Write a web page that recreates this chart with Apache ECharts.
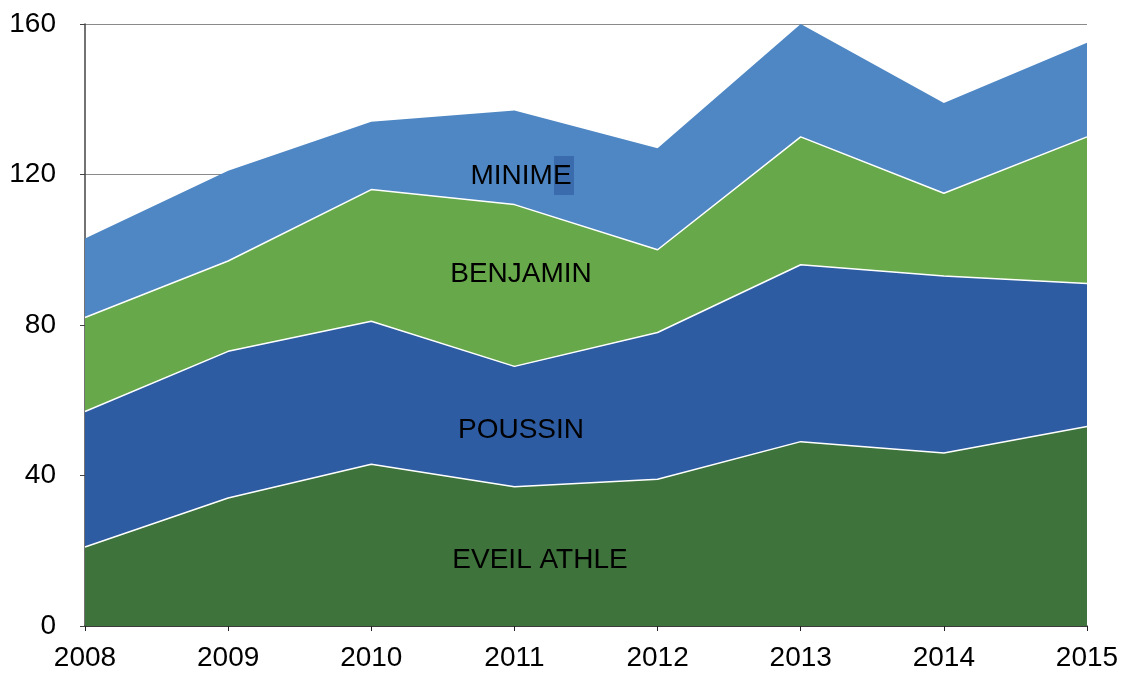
<!DOCTYPE html>
<html>
<head>
<meta charset="utf-8">
<script src="https://cdn.jsdelivr.net/npm/echarts@6/dist/echarts.min.js"></script>
<style>
  html, body { margin: 0; padding: 0; background: #fff; }
  #chart { width: 1125px; height: 673px; }
</style>
</head>
<body>
<div id="chart"></div>
<script>
const years = ['2008', '2009', '2010', '2011', '2012', '2013', '2014', '2015'];
const eveilAthle = [21, 34, 43, 37, 39, 49, 46, 53];
const poussin = [36, 39, 38, 32, 39, 47, 47, 38];
const benjamin = [25, 24, 35, 43, 22, 34, 22, 39];
const minime = [21, 24, 18, 25, 27, 30, 24, 25];

const seriesNames = ['EVEIL ATHLE', 'POUSSIN', 'BENJAMIN', 'MINIME'];
const seriesColors = ['#3e733c', '#2e5ca2', '#67a84b', '#4e87c4'];

let myChart = echarts.init(document.getElementById('chart'));

function areaSeries(idx, data, withLine) {
    return {
        name: seriesNames[idx],
        type: 'line',
        stack: 'total',
        data: data,
        symbol: 'none',
        lineStyle: {
            color: '#ffffff',
            width: withLine ? 1.5 : 0
        },
        areaStyle: {
            color: seriesColors[idx],
            opacity: 1
        },
        z: 2
    };
}

const labelFont = 'Liberation Sans, Arial, sans-serif';

let option = {
    animation: false,
    grid: {
        left: 85,
        right: 38,
        top: 24,
        bottom: 47
    },
    xAxis: {
        type: 'category',
        boundaryGap: false,
        data: years,
        axisLine: { lineStyle: { color: '#222', width: 1.5 } },
        axisTick: { show: true, length: 5, inside: false, lineStyle: { color: '#222' } },
        axisLabel: {
            color: '#000',
            fontSize: 28,
            fontFamily: labelFont,
            margin: 18
        },
        splitLine: { show: false }
    },
    yAxis: {
        type: 'value',
        min: 0,
        max: 160,
        interval: 40,
        axisLine: { show: true, lineStyle: { color: '#444', width: 1.5 } },
        axisTick: { show: true, length: 5, lineStyle: { color: '#444' } },
        axisLabel: {
            color: '#000',
            fontSize: 28,
            fontFamily: labelFont,
            margin: 29
        },
        splitLine: { show: true, lineStyle: { color: '#8a8a8a', width: 1 } }
    },
    series: [
        areaSeries(0, eveilAthle, true),
        areaSeries(1, poussin, true),
        areaSeries(2, benjamin, true),
        areaSeries(3, minime, false)
    ],
    graphic: [
        {
            type: 'rect',
            shape: { x: 554, y: 156, width: 20, height: 39 },
            style: { fill: '#3a6cad' },
            z: 10
        },
        {
            type: 'text', x: 521, y: 176,
            style: { text: 'MINIME', fill: '#000', fontSize: 28, fontFamily: labelFont, align: 'center', verticalAlign: 'middle' },
            z: 11
        },
        {
            type: 'text', x: 521, y: 274,
            style: { text: 'BENJAMIN', fill: '#000', fontSize: 28, fontFamily: labelFont, align: 'center', verticalAlign: 'middle' },
            z: 11
        },
        {
            type: 'text', x: 521, y: 430,
            style: { text: 'POUSSIN', fill: '#000', fontSize: 28, fontFamily: labelFont, align: 'center', verticalAlign: 'middle' },
            z: 11
        },
        {
            type: 'text', x: 540, y: 560,
            style: { text: 'EVEIL ATHLE', fill: '#000', fontSize: 28, fontFamily: labelFont, align: 'center', verticalAlign: 'middle' },
            z: 11
        }
    ]
};

myChart.setOption(option);
</script>
</body>
</html>
